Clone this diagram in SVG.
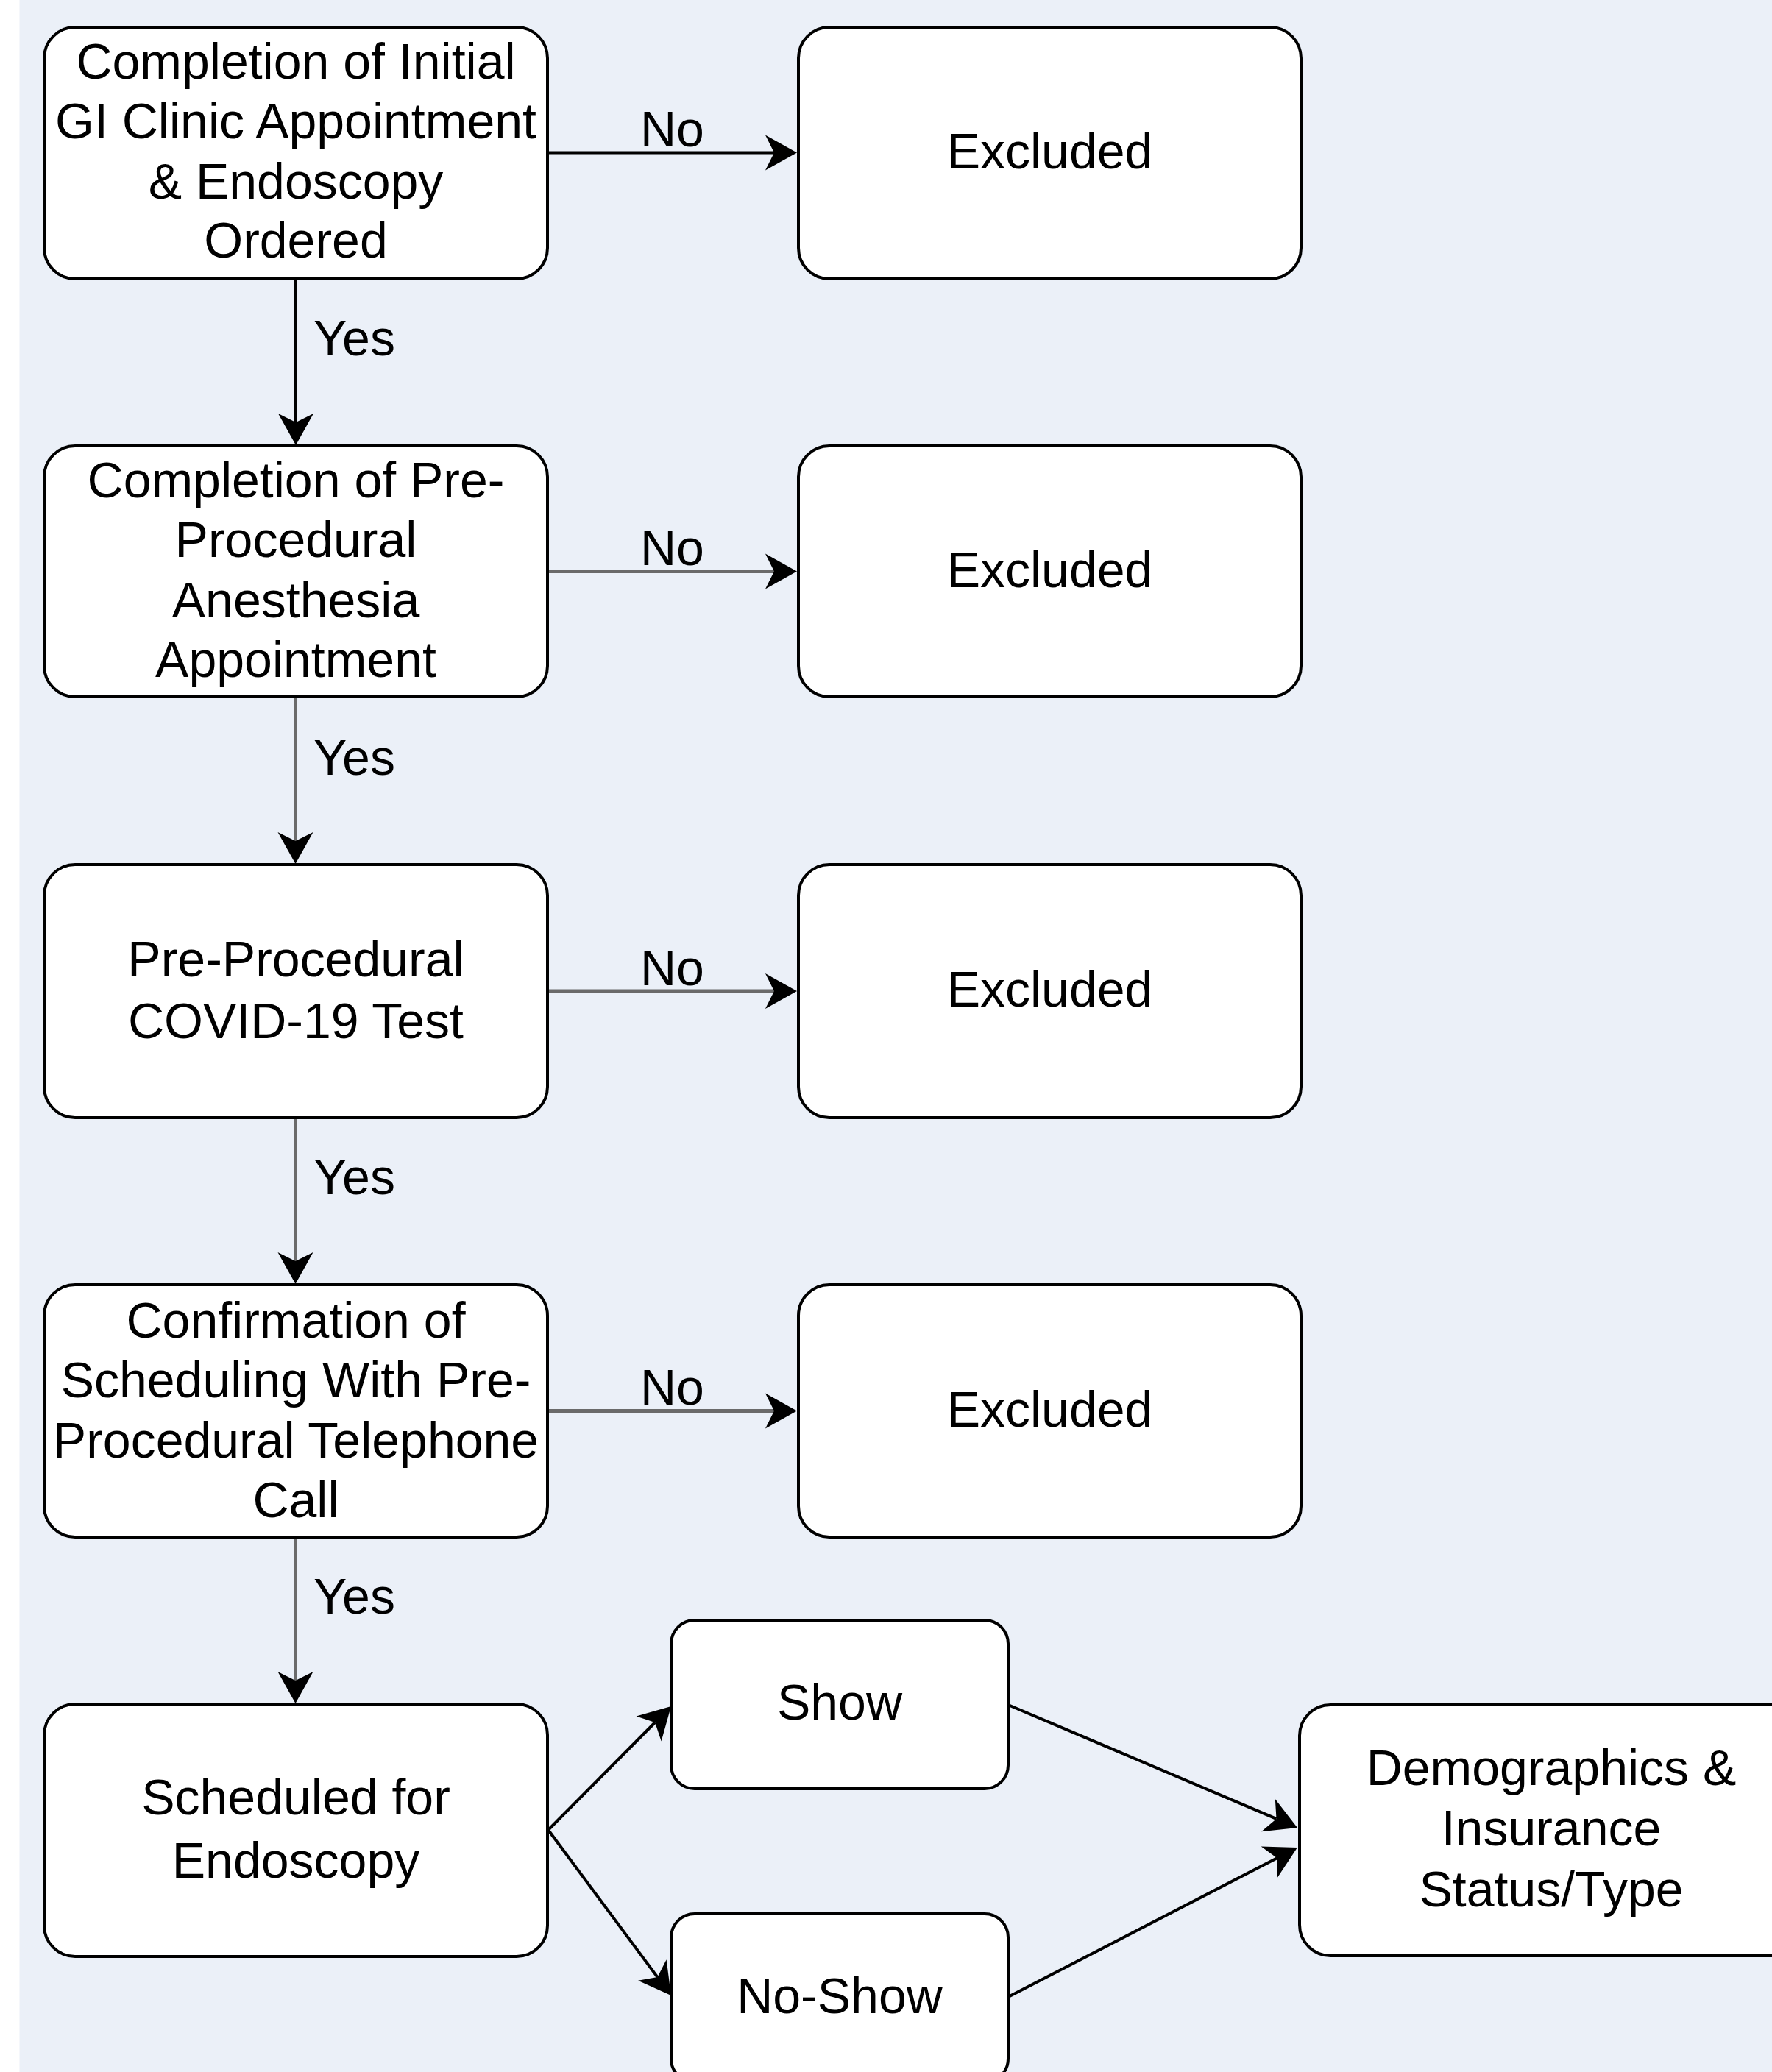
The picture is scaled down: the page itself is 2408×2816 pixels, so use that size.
<svg xmlns="http://www.w3.org/2000/svg" width="2408" height="2816" viewBox="0 0 2408 2816">
<style>
.bg{fill:#EBF0F8}
.box{fill:#FFFFFF;stroke:#000;stroke-width:4}
.t{font-family:"Liberation Sans",Arial,Helvetica,sans-serif;font-size:68px;fill:#000;text-anchor:middle}
.lbl{font-family:"Liberation Sans",Arial,Helvetica,sans-serif;font-size:68px;fill:#000}
.ek{fill:none;stroke:#000;stroke-width:4}
.eg{fill:none;stroke:#6A6A6A;stroke-width:5}
</style>
<defs>
<marker id="arr" markerUnits="userSpaceOnUse" viewBox="-15 -25 50 50" markerWidth="50" markerHeight="50" refX="0" refY="0" orient="auto" overflow="visible">
<path d="M31,0 L-12,-24 L0,0 L-12,24 Z" fill="#000"/>
</marker>
</defs>
<rect x="0" y="0" width="2408" height="2816" fill="#FFFFFF"/>
<rect class="bg" x="26.5" y="0" width="2381.5" height="2816"/>

<g id="connectors">
<line class="ek" x1="744" y1="207.5" x2="1052" y2="207.5" marker-end="url(#arr)"/>
<line class="ek" x1="402" y1="379" x2="402" y2="574" marker-end="url(#arr)"/>
<line class="eg" x1="744" y1="776.5" x2="1052" y2="776.5" marker-end="url(#arr)"/>
<line class="eg" x1="401.5" y1="947" x2="401.5" y2="1143" marker-end="url(#arr)"/>
<line class="eg" x1="744" y1="1347" x2="1052" y2="1347" marker-end="url(#arr)"/>
<line class="eg" x1="401.5" y1="1519" x2="401.5" y2="1714" marker-end="url(#arr)"/>
<line class="eg" x1="744" y1="1917.5" x2="1052" y2="1917.5" marker-end="url(#arr)"/>
<line class="eg" x1="401.5" y1="2089" x2="401.5" y2="2284" marker-end="url(#arr)"/>
<line class="ek" x1="745" y1="2487" x2="890.1" y2="2341" marker-end="url(#arr)"/>
<line class="ek" x1="745" y1="2487" x2="893.5" y2="2687.1" marker-end="url(#arr)"/>
<line class="ek" x1="1370" y1="2317" x2="1734.5" y2="2471.9" marker-end="url(#arr)"/>
<line class="ek" x1="1370" y1="2714" x2="1735.4" y2="2525.2" marker-end="url(#arr)"/>
<text class="lbl" x="870" y="199">No</text>
<text class="lbl" x="870" y="768">No</text>
<text class="lbl" x="870" y="1338.5">No</text>
<text class="lbl" x="870" y="1909">No</text>
<text class="lbl" x="426" y="483">Yes</text>
<text class="lbl" x="426" y="1053">Yes</text>
<text class="lbl" x="426" y="1623">Yes</text>
<text class="lbl" x="426" y="2193">Yes</text>
</g>

<g id="n1">
<rect class="box" x="60" y="37" width="684" height="342" rx="42" ry="42"/>
<text class="t" x="402" y="107">Completion of Initial</text>
<text class="t" x="402" y="188">GI Clinic Appointment</text>
<text class="t" x="402" y="270">&amp; Endoscopy</text>
<text class="t" x="402" y="350">Ordered</text>
</g>
<g id="e1">
<rect class="box" x="1085" y="37" width="683" height="342" rx="42" ry="42"/>
<text class="t" x="1426.5" y="229">Excluded</text>
</g>

<g id="n2">
<rect class="box" x="60" y="606" width="684" height="341" rx="42" ry="42"/>
<text class="t" x="402" y="676">Completion of Pre-</text>
<text class="t" x="402" y="757">Procedural</text>
<text class="t" x="402" y="839">Anesthesia</text>
<text class="t" x="402" y="920">Appointment</text>
</g>
<g id="e2">
<rect class="box" x="1085" y="606" width="683" height="341" rx="42" ry="42"/>
<text class="t" x="1426.5" y="797.5">Excluded</text>
</g>

<g id="n3">
<rect class="box" x="60" y="1175" width="684" height="344" rx="42" ry="42"/>
<text class="t" x="402" y="1327">Pre-Procedural</text>
<text class="t" x="402" y="1411">COVID-19 Test</text>
</g>
<g id="e3">
<rect class="box" x="1085" y="1175" width="683" height="344" rx="42" ry="42"/>
<text class="t" x="1426.5" y="1368">Excluded</text>
</g>

<g id="n4">
<rect class="box" x="60" y="1746" width="684" height="343" rx="42" ry="42"/>
<text class="t" x="402" y="1818">Confirmation of</text>
<text class="t" x="402" y="1899">Scheduling With Pre-</text>
<text class="t" x="402" y="1981">Procedural Telephone</text>
<text class="t" x="402" y="2062">Call</text>
</g>
<g id="e4">
<rect class="box" x="1085" y="1746" width="683" height="343" rx="42" ry="42"/>
<text class="t" x="1426.5" y="1938.5">Excluded</text>
</g>

<g id="n5">
<rect class="box" x="60" y="2316" width="684" height="343" rx="42" ry="42"/>
<text class="t" x="402" y="2466">Scheduled for</text>
<text class="t" x="402" y="2552">Endoscopy</text>
</g>

<g id="show">
<rect class="box" x="912" y="2202" width="458" height="229" rx="32" ry="32"/>
<text class="t" x="1141" y="2337">Show</text>
</g>
<g id="noshow">
<rect class="box" x="912" y="2601" width="458" height="229" rx="32" ry="32"/>
<text class="t" x="1141" y="2736">No-Show</text>
</g>

<g id="demo">
<rect class="box" x="1766" y="2317" width="684" height="341" rx="42" ry="42"/>
<text class="t" x="2108" y="2426">Demographics &amp;</text>
<text class="t" x="2108" y="2508">Insurance</text>
<text class="t" x="2108" y="2591">Status/Type</text>
</g>
</svg>
